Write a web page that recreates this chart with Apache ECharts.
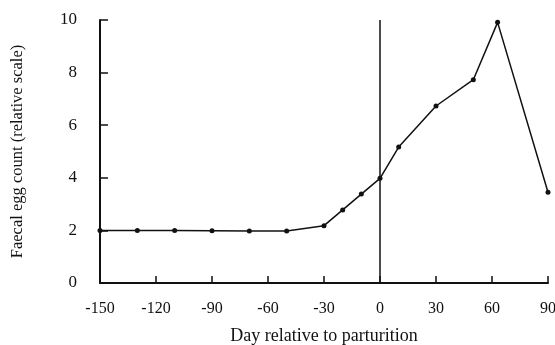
<!DOCTYPE html>
<html>
<head>
<meta charset="utf-8">
<script src="https://cdn.jsdelivr.net/npm/echarts@6/dist/echarts.min.js"></script>
<style>
  html, body { margin: 0; padding: 0; background: #fff; }
  #chart { width: 555px; height: 345px; }
</style>
</head>
<body>
<div id="chart"></div>
<script>
// day relative to parturition and the relative egg count
const days = [-150, -130, -110, -90, -70, -50, -30, -20, -10, 0, 10, 30, 50, 63, 90];
const eggCount = [2.0, 2.0, 2.0, 1.99, 1.98, 1.98, 2.18, 2.78, 3.38, 3.98, 5.17, 6.73, 7.73, 9.91, 3.45];

const xTicks = [-150, -120, -90, -60, -30, 0, 30, 60, 90];
const yTicks = [0, 2, 4, 6, 8, 10];

const font = 'Liberation Serif';

const chart = echarts.init(document.getElementById('chart'));

chart.setOption({
    animation: false,
    grid: { left: 100, right: 7, top: 20, bottom: 62, containLabel: false, outerBoundsMode: 'none' },
    xAxis: {
        type: 'value',
        min: xTicks[0],
        max: xTicks[xTicks.length - 1],
        interval: 30,
        name: 'Day relative to parturition',
        nameLocation: 'middle',
        nameGap: 44,
        nameTextStyle: { fontFamily: font, fontSize: 18, color: '#111' },
        axisLine: { onZero: false, lineStyle: { color: '#111', width: 2 } },
        axisTick: { inside: true, length: 7, lineStyle: { color: '#111', width: 1.5 } },
        axisLabel: { fontFamily: font, fontSize: 16, color: '#111', margin: 18 },
        splitLine: { show: false }
    },
    yAxis: {
        type: 'value',
        min: yTicks[0],
        max: yTicks[yTicks.length - 1],
        interval: 2,
        name: 'Faecal egg count (relative scale)',
        nameLocation: 'middle',
        nameGap: 74,
        nameTextStyle: { fontFamily: font, fontSize: 16.5, color: '#111' },
        axisLine: { show: true, onZero: false, lineStyle: { color: '#111', width: 2 } },
        axisTick: { show: true, inside: true, length: 8, lineStyle: { color: '#111', width: 1.5 } },
        axisLabel: { fontFamily: font, fontSize: 17, color: '#111', margin: 23 },
        splitLine: { show: false }
    },
    series: [{
        type: 'line',
        data: days.map((d, i) => [d, eggCount[i]]),
        symbol: 'circle',
        symbolSize: 5,
        itemStyle: { color: '#111' },
        lineStyle: { color: '#111', width: 1.5 },
        markLine: {
            silent: true,
            symbol: 'none',
            label: { show: false },
            lineStyle: { color: '#111', width: 1.5, type: 'solid' },
            data: [{ xAxis: 0 }]
        }
    }]
});
</script>
</body>
</html>
